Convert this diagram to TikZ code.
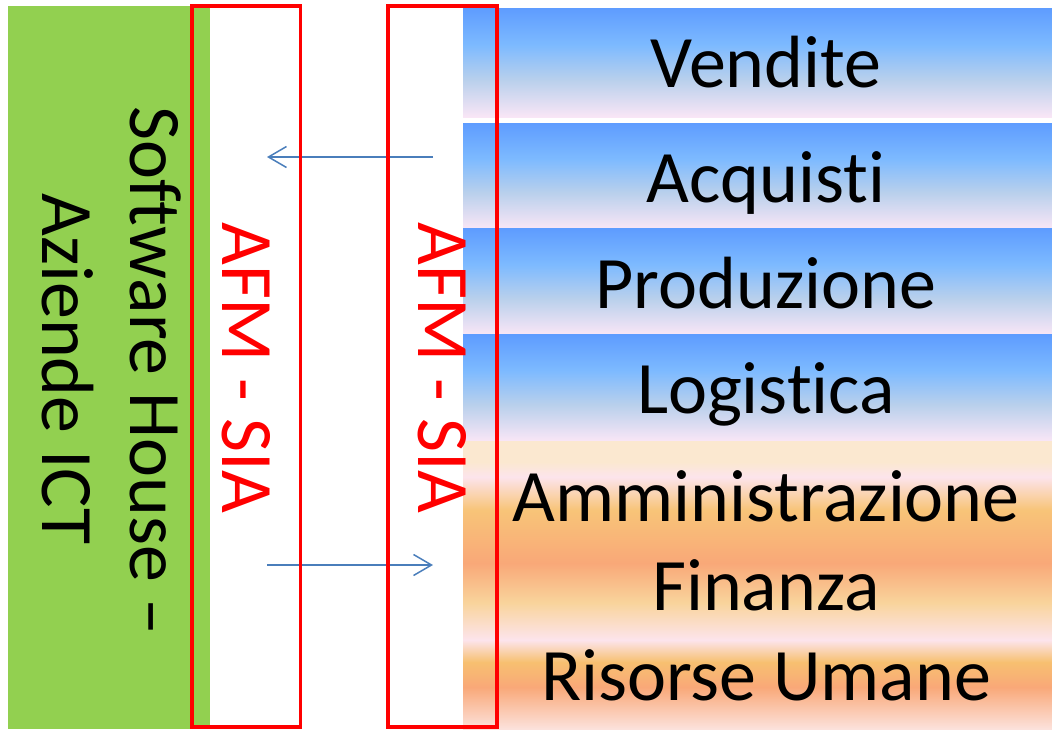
\documentclass[tikz,border=0pt]{standalone}
\usepackage{fontspec}
\setmainfont{Carlito}[Ligatures={NoCommon,NoRare}]
\usetikzlibrary{arrows.meta}
\definecolor{grn}{HTML}{92D050}
\definecolor{redb}{HTML}{FF0000}
\definecolor{arr}{HTML}{4A7EBB}
\definecolor{btop}{HTML}{5E9CFF}
\definecolor{blight}{HTML}{7DBAFF}
\definecolor{bmid}{HTML}{B9D0EC}
\definecolor{bpink}{HTML}{F9E6F6}
\definecolor{oa}{HTML}{FBE8D0}
\definecolor{opink}{HTML}{FCE4EC}
\definecolor{oyel}{HTML}{F8C478}
\definecolor{osal}{HTML}{F9A878}
\definecolor{olite}{HTML}{F9D49C}
\definecolor{oor}{HTML}{F7C070}
\definecolor{obot}{HTML}{FCE2DC}
\pgfdeclareverticalshading{bluesh}{100bp}{color(0bp)=(bpink); color(25bp)=(bpink); color(42bp)=(bmid); color(58bp)=(blight); color(75bp)=(btop); color(100bp)=(btop)}
\pgfdeclareverticalshading{orsh}{100bp}{color(0bp)=(obot); color(25bp)=(obot); color(32.3bp)=(osal); color(36.6bp)=(oor); color(40.45bp)=(opink); color(46.9bp)=(olite); color(53.8bp)=(osal); color(63bp)=(oyel); color(68.75bp)=(opink); color(71.35bp)=(oa); color(75bp)=(oa); color(100bp)=(oa)}
\tikzset{
  big/.style={font=\fontsize{74}{88}\selectfont, inner sep=0pt},
  lbl/.style={big, text=black, anchor=base},
  afm/.style={big, text=redb, anchor=base, rotate=-90},
  redbox/.style={draw=redb, line width=3.6pt},
  flow/.style={draw=arr, line width=1.5pt, -{Straight Barb[length=18pt,width=21pt,line width=1.5pt]}}
}
\begin{document}
\begin{tikzpicture}[x=1pt,y=-1pt]
\useasboundingbox (0,0) rectangle (1052,729);
% green block
\fill[grn] (8,6) rectangle (210,729);
% blue bands
\path[shading=bluesh] (463,8) rectangle (1052,117);
\path[shading=bluesh] (463,123) rectangle (1052,228.5);
\path[shading=bluesh] (463,228.5) rectangle (1052,334.5);
\path[shading=bluesh] (463,334.5) rectangle (1052,441);
% orange band
\path[shading=orsh] (463,441) rectangle (1052,729);
% texts
\node[lbl, rotate=-90] (sw) at (130,371) {Software House –};
\node[lbl, rotate=-90] (az) at (42,369) {Aziende ICT};
\node[lbl] (vend) at (766,87) {Vendite};
\node[lbl] (acq) at (766,202.5) {Acquisti};
\node[lbl] (prod) at (766,308) {Produzione};
\node[lbl] (log) at (766,413) {Logistica};
\node[lbl] (amm) at (766,521) {Amministrazione};
\node[lbl] (fin) at (766,610) {Finanza};
\node[lbl] (ris) at (766,700) {Risorse Umane};
\node[afm] (afm1) at (222,368) {AFM - SIA};
\node[afm] (afm2) at (418,368) {AFM - SIA};
% arrows
\coordinate (a1s) at (433,157);
\coordinate (a1e) at (267,157);
\coordinate (a2s) at (267,565);
\coordinate (a2e) at (433,565);
\draw[flow] (a1s) -- (a1e);
\draw[flow] (a2s) -- (a2e);
% red frames
\draw[redbox] (192,6) rectangle (300.5,727);
\draw[redbox] (388,6) rectangle (497,727);
\end{tikzpicture}
\end{document}
